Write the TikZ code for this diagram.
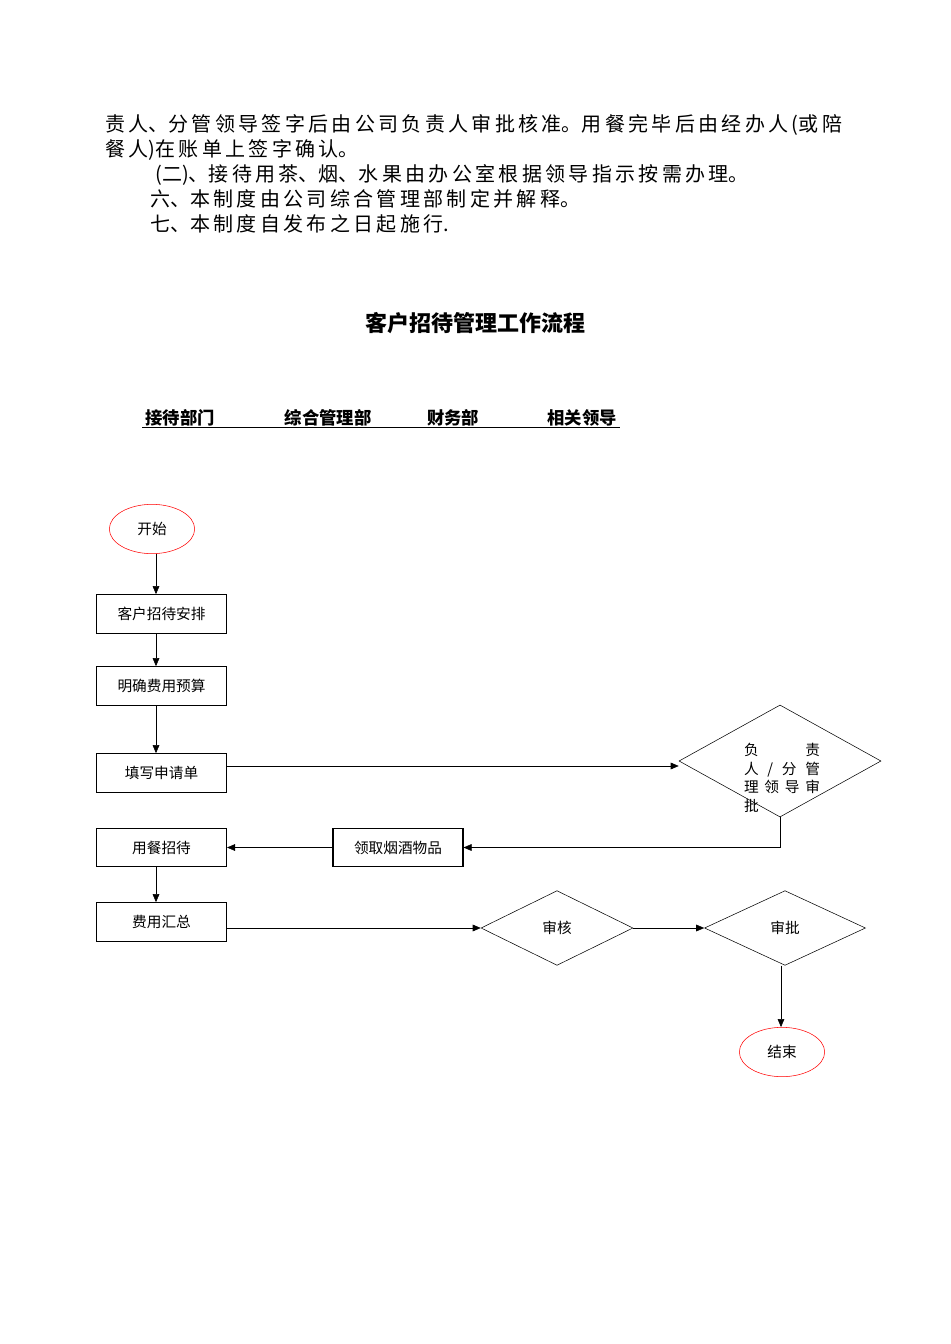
\documentclass[tikz,border=0pt]{standalone}
\usepackage{fontspec}
\setmainfont{Noto Sans CJK SC}
\usetikzlibrary{shapes.geometric,arrows.meta}
\begin{document}
\begin{tikzpicture}[x=0.75pt,y=-0.75pt,
  box/.style={draw,thick,minimum width=97.5pt,minimum height=29pt,inner sep=0pt,font=\fontsize{11}{12}\selectfont},
  ell/.style={draw=red,ellipse,minimum width=64pt,minimum height=37pt,inner sep=0pt,font=\fontsize{11}{12}\selectfont},
  dia/.style={draw,diamond,aspect=1.8,inner sep=0pt,font=\fontsize{11}{12}\selectfont},
  arr/.style={-{Triangle[length=6pt,width=5pt]}},
  body/.style={anchor=west,inner sep=0pt,font=\fontsize{15}{18}\selectfont},
  hd/.style={inner sep=0pt,font=\bfseries\fontsize{13}{14}\selectfont}]
\useasboundingbox (0,0) rectangle (950,1344);
\node[body] (t1) at (105,125) {责\,人、分\,管\,领\,导\,签\,字\,后\,由\,公\,司\,负\,责\,人\,审\,批\,核\,准。用\,餐\,完\,毕\,后\,由\,经\,办\,人\,(或\,陪};
\node[body] (t2) at (105,150) {餐\,人)在\,账\,单\,上\,签\,字\,确\,认。};
\node[body] (t3) at (155,175) {(二)、接\,待\,用\,茶、烟、水\,果\,由\,办\,公\,室\,根\,据\,领\,导\,指\,示\,按\,需\,办\,理。};
\node[body] (t4) at (150,199) {六、本\,制\,度\,由\,公\,司\,综\,合\,管\,理\,部\,制\,定\,并\,解\,释。};
\node[body] (t5) at (150,224) {七、本\,制\,度\,自\,发\,布\,之\,日\,起\,施\,行.};
\node[inner sep=0pt,font=\bfseries\fontsize{16.5}{18}\selectfont] (title) at (475,323) {客户招待管理工作流程};
\node[hd] (h1) at (180,418) {接待部门};
\node[hd] (h2) at (328,418) {综合管理部};
\node[hd] (h3) at (453,418) {财务部};
\node[hd] (h4) at (582,418) {相关领导};
\coordinate (ul1) at (142,427); \coordinate (ul2) at (620,427);
\draw (ul1) -- (ul2);
\node[ell] (start) at (152,529) {开始};
\node[box] (a1) at (161.5,614) {客户招待安排};
\node[box] (a2) at (161.5,686) {明确费用预算};
\node[box] (a3) at (161.5,773) {填写申请单};
\node[draw,diamond,minimum width=151.5pt,minimum height=84pt,inner sep=0pt] (d1) at (780,761) {};
\node[font=\fontsize{11}{14}\selectfont,align=left,text width=57pt] (d1t) at (782,778) {负\hfill 责\\人\hfill /\hfill 分\hfill 管\\理\hfill 领\hfill 导\hfill 审\\批};
\node[box] (a4) at (161.5,847.5) {用餐招待};
\node[box] (b1) at (398,847.5) {领取烟酒物品};
\node[box] (a5) at (161.5,922) {费用汇总};
\node[draw,diamond,minimum width=114pt,minimum height=56pt,inner sep=0pt,font=\fontsize{11}{12}\selectfont] (d2) at (557,928) {审核};
\node[draw,diamond,minimum width=120.75pt,minimum height=56pt,inner sep=0pt,font=\fontsize{11}{12}\selectfont] (d3) at (785,928) {审批};
\node[ell] (end) at (782,1052) {结束};
\draw[arr] (start.south -| 156,0) -- (a1.north -| 156,0);
\draw[arr] (a1.south -| 156,0) -- (a2.north -| 156,0);
\draw[arr] (a2.south -| 156,0) -- (a3.north -| 156,0);
\draw[arr] (a3.east |- 0,766) -- (d1.west |- 0,766);
\draw[arr] (d1.south) |- (b1.east);
\draw[arr] (b1.west) -- (a4.east);
\draw[arr] (a4.south -| 156,0) -- (a5.north -| 156,0);
\draw[arr] (a5.east |- d2.west) -- (d2.west);
\draw[arr] (d2.east) -- (d3.west);
\draw[arr] (d3.south -| 781,0) -- (end.north -| 781,0);
\end{tikzpicture}
\end{document}
